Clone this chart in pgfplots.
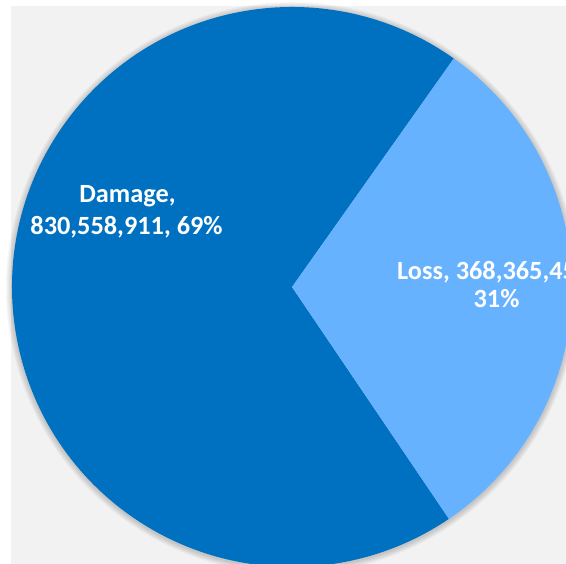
\documentclass[border=0pt]{standalone}
\usepackage{pgfplots}
\pgfplotsset{compat=1.18}
\usepackage{fontspec}
\setmainfont{Carlito}
\definecolor{dmg}{HTML}{0070C0}
\definecolor{lss}{HTML}{66B2FF}
\definecolor{bg}{HTML}{F2F2F2}
% values in millions
\def\damageval{830.558911}
\def\lossval{368.365452}
\pgfmathsetmacro{\totval}{\damageval+\lossval}
\pgfmathsetmacro{\lossfrac}{\lossval/\totval}
\pgfmathsetmacro{\lossang}{360*\lossfrac}
\pgfmathsetmacro{\startang}{54.7}
\pgfmathsetmacro{\endang}{\startang+360-\lossang}
\pgfmathsetmacro{\fullang}{\startang+360}
\begin{document}
\begin{tikzpicture}
\clip (0,0) rectangle (566pt,564pt);
\begin{axis}[at={(0,0)},anchor=south west,width=566pt,height=564pt,
  scale only axis,hide axis,xmin=0,xmax=566,ymin=0,ymax=564,clip=false]
\fill[bg] (axis cs:11,0) rectangle (axis cs:566,558);
\pgfplotsinvokeforeach{281,282,283,284,285,286}{
  \fill[black,opacity=0.03] (axis cs:292,276) circle[radius=#1pt];
}
\fill[dmg] (axis cs:292,277) -- ++(\startang:280pt) arc[start angle=\startang,end angle=\endang,radius=280pt] -- cycle;
\fill[lss] (axis cs:292,277) -- ++(\endang:280pt) arc[start angle=\endang,end angle=\fullang,radius=280pt] -- cycle;
\node[text=white,font=\fontsize{26.3}{30}\selectfont\bfseries,anchor=base] at (axis cs:127.5,361) {Damage,};
\node[text=white,font=\fontsize{26.3}{30}\selectfont\bfseries,anchor=base] at (axis cs:126.5,329) {830,558,911, 69\%};
\node[text=white,font=\fontsize{26.3}{30}\selectfont\bfseries,anchor=base west,inner sep=0pt] at (axis cs:397,284) {Loss, 368,365,452,};
\node[text=white,font=\fontsize{26.3}{30}\selectfont\bfseries,anchor=base] at (axis cs:496.5,256) {31\%};
\end{axis}
\end{tikzpicture}
\end{document}
